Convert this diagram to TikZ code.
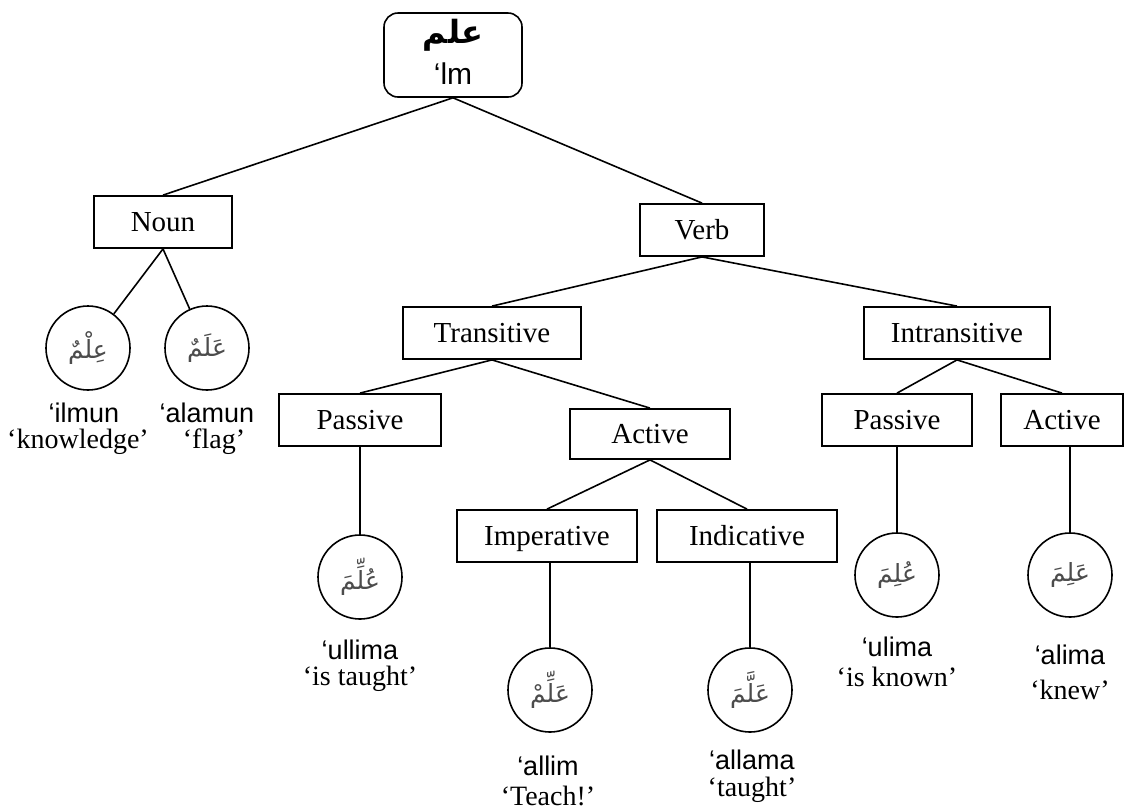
\documentclass[tikz,border=0pt]{standalone}
\usepackage{fontspec}
\setmainfont{Liberation Serif}
\newfontfamily\trfont{Liberation Sans}
\newfontfamily\arabicfont[Script=Arabic]{DejaVu Sans}
\TeXXeTstate=1
\begin{document}
\begin{tikzpicture}[x=1pt,y=-1pt,
  box/.style={draw, line width=1.8pt, minimum height=52pt, inner sep=0pt, text height=20pt, text depth=1pt, font=\fontsize{29}{31}\selectfont},
  leaf/.style={draw, circle, line width=1.6pt, minimum size=84pt, inner sep=0pt, font=\arabicfont\fontsize{25}{28}\selectfont, text=black!70},
  tr/.style={font=\trfont\fontsize{27}{28}\selectfont},
  gl/.style={font=\fontsize{28}{30}\selectfont},
  link/.style={line width=1.6pt}]
\useasboundingbox (0,0) rectangle (1127,807);
% root
\node[draw, rounded corners=14pt, line width=1.6pt, minimum width=138pt, minimum height=84pt] (root) at (453,55) {};
\node[font=\arabicfont\bfseries\fontsize{32}{34}\selectfont] (rootar) at (453,35) {\beginR علم\endR};
\node[font=\trfont\fontsize{30}{32}\selectfont] (rootlm) at (453,74) {‘lm};
% boxes
\node[box, minimum width=138pt] (noun) at (163,222) {Noun};
\node[box, minimum width=124pt] (verb) at (702,230) {Verb};
\node[box, minimum width=178pt] (trans) at (492,333) {Transitive};
\node[box, minimum width=186pt] (intrans) at (957,333) {Intransitive};
\node[box, minimum width=162pt] (passT) at (360,420) {Passive};
\node[box, minimum width=160pt, minimum height=50pt] (actT) at (650,434) {Active};
\node[box, minimum width=180pt] (imp) at (547,536) {Imperative};
\node[box, minimum width=180pt] (ind) at (747,536) {Indicative};
\node[box, minimum width=150pt] (passI) at (897,420) {Passive};
\node[box, minimum width=122pt] (actI) at (1062,420) {Active};
% leaves
\node[leaf] (c1) at (88,348) {\beginR عِلْمٌ\endR};
\node[leaf] (c2) at (207,348) {\beginR عَلَمٌ\endR};
\node[leaf] (c3) at (360,577) {\beginR عُلِّمَ\endR};
\node[leaf] (c4) at (550,690) {\beginR عَلِّمْ\endR};
\node[leaf] (c5) at (750,690) {\beginR عَلَّمَ\endR};
\node[leaf] (c6) at (897,575) {\beginR عُلِمَ\endR};
\node[leaf] (c7) at (1070,575) {\beginR عَلِمَ\endR};
% labels
\node[tr] (t1) at (84,413) {‘ilmun};
\node[gl] (g1) at (78,442) {‘knowledge’};
\node[tr] (t2) at (207,413) {‘alamun};
\node[gl] (g2) at (214,442) {‘flag’};
\node[tr] (t3) at (360,650) {‘ullima};
\node[gl] (g3) at (360,679) {‘is taught’};
\node[tr] (t4) at (548,766) {‘allim};
\node[gl] (g4) at (548,796) {‘Teach!’};
\node[tr] (t5) at (752,760) {‘allama};
\node[gl] (g5) at (752,790) {‘taught’};
\node[tr] (t6) at (897,647) {‘ulima};
\node[gl] (g6) at (897,677) {‘is known’};
\node[tr] (t7) at (1070,655) {‘alima};
\node[gl] (g7) at (1070,690) {‘knew’};
% connectors
\draw[link] (root.south) -- (noun.north);
\draw[link] (root.south) -- (verb.north);
\draw[link] (noun.south) -- (c1);
\draw[link] (noun.south) -- (c2);
\draw[link] (verb.south) -- (trans.north);
\draw[link] (verb.south) -- (intrans.north);
\draw[link] (trans.south) -- (passT.north);
\draw[link] (trans.south) -- (actT.north);
\draw[link] (passT.south) -- (c3.north);
\draw[link] (actT.south) -- (imp.north);
\draw[link] (actT.south) -- (ind.north);
\draw[link] (imp.south -| c4.north) -- (c4.north);
\draw[link] (ind.south -| c5.north) -- (c5.north);
\draw[link] (intrans.south) -- (passI.north);
\draw[link] (intrans.south) -- (actI.north);
\draw[link] (passI.south) -- (c6.north);
\draw[link] (actI.south -| c7.north) -- (c7.north);
\end{tikzpicture}
\end{document}
